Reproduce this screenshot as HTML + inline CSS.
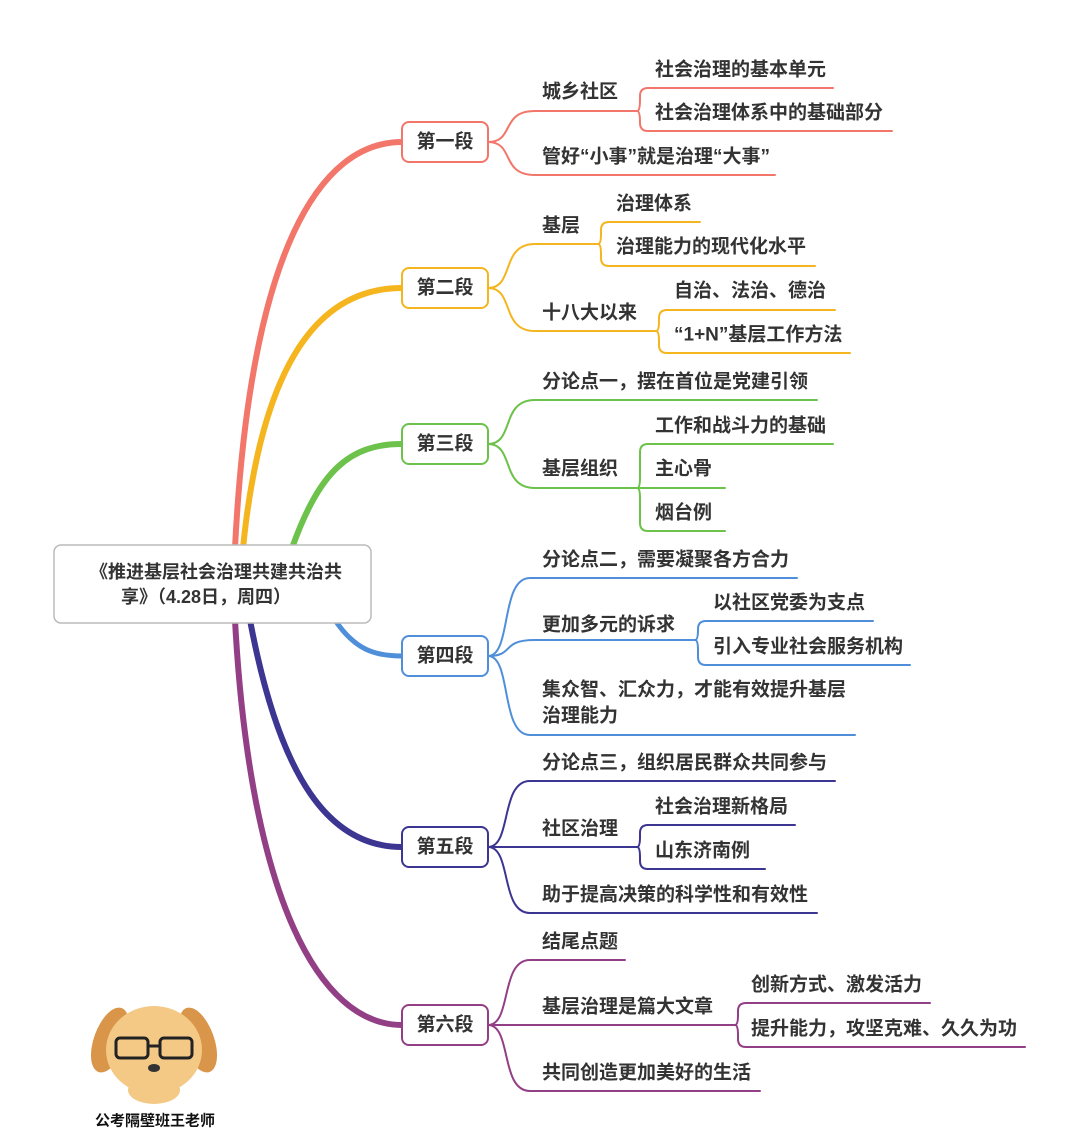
<!DOCTYPE html>
<html><head><meta charset="utf-8"><style>
html,body{margin:0;padding:0;background:#fff}
svg{display:block}
text{font-family:"Liberation Sans","Noto Sans CJK SC",sans-serif;font-weight:700;font-size:19px;fill:#333;dominant-baseline:central}
.box{fill:#fff;stroke-width:2}
.l{fill:none;stroke-width:2;stroke-linecap:round}
</style></head><body>
<svg width="1080" height="1145" viewBox="0 0 1080 1145" xmlns="http://www.w3.org/2000/svg">
<!-- main branches -->
<g fill="none" stroke-linecap="round">
<path d="M235,548 C250,250 320,142 402,142" stroke="#f2766a" stroke-width="6"/>
<path d="M243,548 C262,360 320,288 402,288" stroke="#f5b51f" stroke-width="6"/>
<path d="M292,548 C320,470 350,444 402,444" stroke="#6cc24a" stroke-width="6"/>
<path d="M335,620 C355,650 375,656 402,656" stroke="#4f8fd9" stroke-width="5"/>
<path d="M250,620 C280,780 330,847 402,847" stroke="#3c3591" stroke-width="6"/>
<path d="M235,620 C250,900 320,1025 402,1025" stroke="#933f86" stroke-width="6"/>
</g>
<!-- central -->
<rect x="54" y="545" width="317" height="78" rx="7" fill="#fff" stroke="#bbb" stroke-width="1.5"/>
<text x="216" y="572" text-anchor="middle" style="font-size:18px">《推进基层社会治理共建共治共</text>
<text x="206" y="597" text-anchor="middle" style="font-size:18px">享》（4.28日，周四）</text>

<!-- 第一段 -->
<g stroke="#f2766a">
<path class="l" d="M488,142 C515,142 500,111 535,111 H637"/>
<path class="l" d="M488,142 C515,142 500,175 535,175 H775"/>
<path class="l" d="M637,111 Q640,111 640,100 V96 Q640,88 648,88 H833"/>
<path class="l" d="M637,111 Q640,111 640,122 V123 Q640,131 648,131 H892"/>
<rect class="box" x="402" y="122" width="86" height="40" rx="7"/>
</g>
<text x="445" y="142" text-anchor="middle">第一段</text>
<text x="542" y="92">城乡社区</text>
<text x="655" y="70">社会治理的基本单元</text>
<text x="655" y="113">社会治理体系中的基础部分</text>
<text x="542" y="157">管好“小事”就是治理“大事”</text>

<!-- 第二段 -->
<g stroke="#f5b51f">
<path class="l" d="M488,288 C515,288 500,244 535,244 H598"/>
<path class="l" d="M488,288 C515,288 500,331 535,331 H656"/>
<path class="l" d="M598,244 Q601,244 601,234 V230 Q601,222 609,222 H700"/>
<path class="l" d="M598,244 Q601,244 601,254 V258 Q601,266 609,266 H815"/>
<path class="l" d="M656,331 Q659,331 659,321 V318 Q659,310 667,310 H835"/>
<path class="l" d="M656,331 Q659,331 659,341 V345 Q659,353 667,353 H850"/>
<rect class="box" x="402" y="268" width="86" height="40" rx="7"/>
</g>
<text x="445" y="288" text-anchor="middle">第二段</text>
<text x="542" y="226">基层</text>
<text x="616" y="204">治理体系</text>
<text x="616" y="247">治理能力的现代化水平</text>
<text x="542" y="313">十八大以来</text>
<text x="674" y="291">自治、法治、德治</text>
<text x="674" y="335">“1+N”基层工作方法</text>

<!-- 第三段 -->
<g stroke="#6cc24a">
<path class="l" d="M488,444 C515,444 500,400 535,400 H817"/>
<path class="l" d="M488,444 C515,444 500,488 535,488 H637"/>
<path class="l" d="M637,488 Q640,488 640,478 V452 Q640,444 648,444 H833"/>
<path class="l" d="M637,488 H725"/>
<path class="l" d="M637,488 Q640,488 640,498 V523 Q640,531 648,531 H725"/>
<rect class="box" x="402" y="424" width="86" height="40" rx="7"/>
</g>
<text x="445" y="444" text-anchor="middle">第三段</text>
<text x="542" y="382">分论点一，摆在首位是党建引领</text>
<text x="542" y="469">基层组织</text>
<text x="655" y="426">工作和战斗力的基础</text>
<text x="655" y="469">主心骨</text>
<text x="655" y="513">烟台例</text>

<!-- 第四段 -->
<g stroke="#4f8fd9">
<path class="l" d="M488,656 C512,656 500,578 530,578 H797"/>
<path class="l" d="M488,656 C515,656 500,640 535,640 H695"/>
<path class="l" d="M488,656 C512,656 500,735 530,735 H855"/>
<path class="l" d="M695,640 Q698,640 698,630 V629 Q698,621 706,621 H873"/>
<path class="l" d="M695,640 Q698,640 698,650 V657 Q698,665 706,665 H910"/>
<rect class="box" x="402" y="636" width="86" height="40" rx="7"/>
</g>
<text x="445" y="656" text-anchor="middle">第四段</text>
<text x="542" y="560">分论点二，需要凝聚各方合力</text>
<text x="542" y="625">更加多元的诉求</text>
<text x="713" y="603">以社区党委为支点</text>
<text x="713" y="647">引入专业社会服务机构</text>
<text x="542" y="690">集众智、汇众力，才能有效提升基层</text>
<text x="542" y="716">治理能力</text>

<!-- 第五段 -->
<g stroke="#3c3591">
<path class="l" d="M488,847 C512,847 500,781 530,781 H835"/>
<path class="l" d="M488,847 H637"/>
<path class="l" d="M488,847 C512,847 500,913 530,913 H817"/>
<path class="l" d="M637,847 Q640,847 640,837 V833 Q640,825 648,825 H795"/>
<path class="l" d="M637,847 Q640,847 640,857 V861 Q640,869 648,869 H765"/>
<rect class="box" x="402" y="827" width="86" height="40" rx="7"/>
</g>
<text x="445" y="847" text-anchor="middle">第五段</text>
<text x="542" y="763">分论点三，组织居民群众共同参与</text>
<text x="542" y="829">社区治理</text>
<text x="655" y="807">社会治理新格局</text>
<text x="655" y="851">山东济南例</text>
<text x="542" y="895">助于提高决策的科学性和有效性</text>

<!-- 第六段 -->
<g stroke="#933f86">
<path class="l" d="M488,1025 C512,1025 500,960 530,960 H625"/>
<path class="l" d="M488,1025 H735"/>
<path class="l" d="M488,1025 C512,1025 500,1091 530,1091 H760"/>
<path class="l" d="M735,1025 Q738,1025 738,1015 V1011 Q738,1003 746,1003 H930"/>
<path class="l" d="M735,1025 Q738,1025 738,1035 V1039 Q738,1047 746,1047 H1025"/>
<rect class="box" x="402" y="1005" width="86" height="40" rx="7"/>
</g>
<text x="445" y="1025" text-anchor="middle">第六段</text>
<text x="542" y="942">结尾点题</text>
<text x="542" y="1007">基层治理是篇大文章</text>
<text x="751" y="985">创新方式、激发活力</text>
<text x="751" y="1029">提升能力，攻坚克难、久久为功</text>
<text x="542" y="1073">共同创造更加美好的生活</text>

<!-- mascot -->
<g>
<ellipse cx="110" cy="1040" rx="16" ry="34" fill="#d9954a" transform="rotate(20 110 1040)"/>
<ellipse cx="198" cy="1040" rx="16" ry="34" fill="#d9954a" transform="rotate(-20 198 1040)"/>
<ellipse cx="154" cy="1050" rx="48" ry="44" fill="#f3c985"/>
<ellipse cx="154" cy="1090" rx="26" ry="14" fill="#f3c985"/>
<rect x="116" y="1038" width="32" height="20" rx="4" fill="none" stroke="#222" stroke-width="3"/>
<rect x="160" y="1038" width="32" height="20" rx="4" fill="none" stroke="#222" stroke-width="3"/>
<line x1="148" y1="1046" x2="160" y2="1046" stroke="#222" stroke-width="3"/>
<ellipse cx="154" cy="1068" rx="6" ry="4" fill="#333"/>
</g>
<text x="155" y="1121" text-anchor="middle" style="font-size:15px;fill:#111">公考隔壁班王老师</text>
</svg>
</body></html>
